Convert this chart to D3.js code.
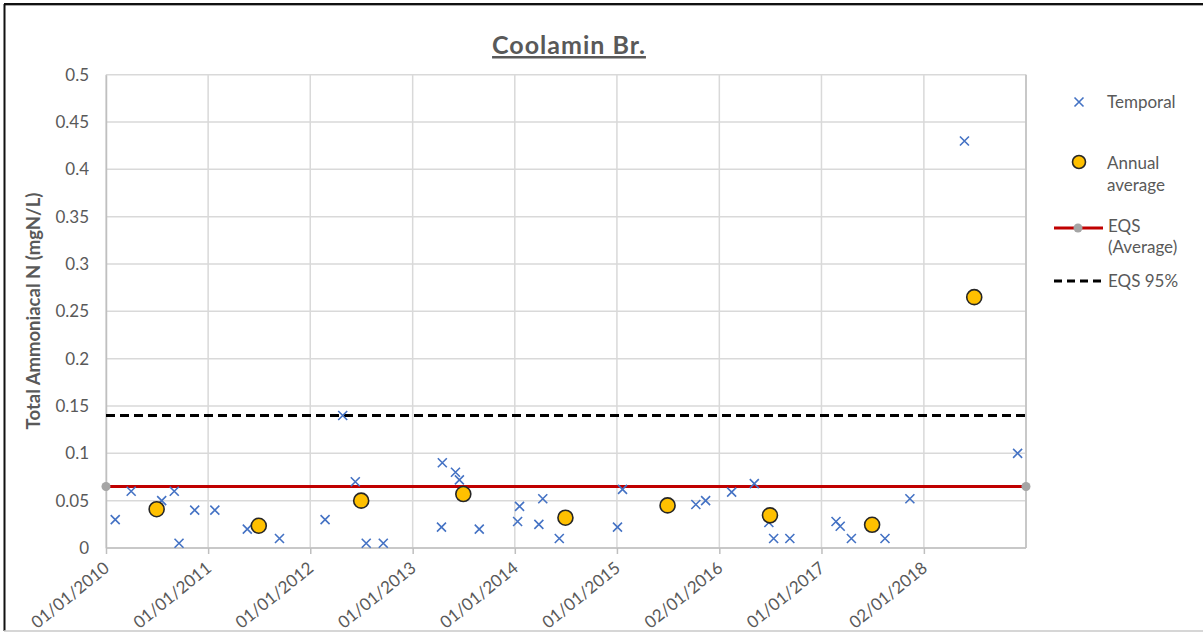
<!DOCTYPE html>
<html>
<head>
<meta charset="utf-8">
<script src="https://cdn.jsdelivr.net/npm/d3@7"></script>
<style>
  html, body { margin: 0; padding: 0; background: #fff; }
  svg { display: block; font-family: Lato, "Open Sans", "Liberation Sans", sans-serif; }
</style>
</head>
<body>
<svg id="chart" width="1203" height="633"></svg>
<script>
// ---- data ----
const titleText = "Coolamin Br.";
const yAxisTitle = "Total Ammoniacal N (mgN/L)";

const temporalDates = [
  "2010-02-03","2010-04-01","2010-07-19","2010-09-02","2010-09-19","2010-11-14",
  "2011-01-25","2011-05-21","2011-09-13",
  "2012-02-23","2012-04-26","2012-06-10","2012-07-19","2012-09-18",
  "2013-04-14","2013-04-17","2013-06-03","2013-06-17","2013-08-27",
  "2014-01-11","2014-01-18","2014-03-28","2014-04-11","2014-06-09",
  "2015-01-03","2015-01-21","2015-10-10","2015-11-14",
  "2016-02-15","2016-05-06","2016-06-27","2016-07-14","2016-09-10",
  "2017-02-22","2017-03-09","2017-04-18","2017-08-16","2017-11-13",
  "2018-05-27","2018-12-03"
];
const temporalValues = [
  0.03,0.06,0.05,0.06,0.005,0.04,
  0.04,0.02,0.01,
  0.03,0.14,0.07,0.005,0.005,
  0.022,0.09,0.08,0.072,0.02,
  0.028,0.044,0.025,0.052,0.01,
  0.022,0.062,0.046,0.05,
  0.059,0.068,0.027,0.01,0.01,
  0.028,0.023,0.01,0.01,0.052,
  0.43,0.1
];

const annualDates = ["2010-07-01","2011-07-01","2012-07-01","2013-07-01","2014-07-01",
                     "2015-07-01","2016-07-01","2017-07-01","2018-07-01"];
const annualValues = [0.041,0.0235,0.05,0.057,0.032,0.045,0.0345,0.0245,0.265];

const eqsAverage = 0.065;
const eqs95 = 0.14;

const xTickDates = ["2010-01-01","2011-01-01","2012-01-01","2013-01-01","2014-01-01",
                    "2015-01-01","2016-01-02","2017-01-01","2018-01-02"];
const xTickLabels = ["01/01/2010","01/01/2011","01/01/2012","01/01/2013","01/01/2014",
                     "01/01/2015","02/01/2016","01/01/2017","02/01/2018"];
const xDomain = ["2010-01-01","2019-01-02"];
const yTicks = [0,0.05,0.1,0.15,0.2,0.25,0.3,0.35,0.4,0.45,0.5];

const legendLabels = [["Temporal"],["Annual","average"],["EQS","(Average)"],["EQS 95%"]];

// ---- drawing ----
const parse = d3.utcParse("%Y-%m-%d");
const svg = d3.select("#chart");
const W = 1203, H = 633;
const plot = {left: 106, right: 1026, top: 74.7, bottom: 548};
const textCol = "#595959";
const gridCol = "#D9D9D9";
const fam = "Lato, 'Open Sans', sans-serif";

// outer frame
svg.append("rect").attr("x",0).attr("y",0).attr("width",W).attr("height",H).attr("fill","#fff");
svg.append("line").attr("x1",4).attr("x2",W).attr("y1",4).attr("y2",4).attr("stroke","#111").attr("stroke-width",2);
svg.append("line").attr("x1",4).attr("x2",W).attr("y1",5.5).attr("y2",5.5).attr("stroke","#aaa").attr("stroke-width",1);
svg.append("line").attr("x1",4.5).attr("x2",4.5).attr("y1",4).attr("y2",631).attr("stroke","#111").attr("stroke-width",2);
svg.append("line").attr("x1",4).attr("x2",W).attr("y1",631).attr("y2",631).attr("stroke","#c8c8c8").attr("stroke-width",1.5);

const x = d3.scaleUtc().domain(xDomain.map(parse)).range([plot.left, plot.right]);
const y = d3.scaleLinear().domain([0, 0.5]).range([plot.bottom, plot.top]);

// horizontal gridlines
svg.append("g").selectAll("line").data(yTicks).join("line")
  .attr("x1", plot.left).attr("x2", plot.right)
  .attr("y1", d => y(d)).attr("y2", d => y(d))
  .attr("stroke", gridCol).attr("stroke-width", 1.5);

// vertical gridlines
const xTicks = xTickDates.map(parse);
svg.append("g").selectAll("line").data(xTicks.concat([parse(xDomain[1])])).join("line")
  .attr("x1", d => x(d)).attr("x2", d => x(d))
  .attr("y1", plot.top).attr("y2", plot.bottom)
  .attr("stroke", gridCol).attr("stroke-width", 1.5);

// right border of plot
svg.append("line").attr("x1", plot.right).attr("x2", plot.right)
  .attr("y1", plot.top).attr("y2", plot.bottom).attr("stroke", "#BFBFBF").attr("stroke-width", 1.5);

// y axis
const yAxis = d3.axisLeft(y).tickValues(yTicks).tickSize(0).tickPadding(17)
  .tickFormat(d => d3.format("~g")(d));
const gy = svg.append("g").attr("transform", `translate(${plot.left},0)`).call(yAxis);
gy.select(".domain").attr("stroke", "#BFBFBF").attr("stroke-width", 1.5);
gy.selectAll("text").attr("fill", textCol).style("font-size", "17px").style("font-family", fam);

// x axis
const xAxis = d3.axisBottom(x).tickValues(xTicks).tickSize(6)
  .tickFormat((d, i) => xTickLabels[i]);
const gx = svg.append("g").attr("transform", `translate(0,${plot.bottom})`).call(xAxis);
gx.select(".domain").attr("stroke", "#BFBFBF").attr("stroke-width", 1.5).attr("d", `M${plot.left},0H${plot.right}`);
gx.selectAll(".tick line").attr("stroke", "#BFBFBF").attr("stroke-width", 1.5);
gx.selectAll("text")
  .attr("fill", textCol).style("font-size", "17px").style("font-family", fam)
  .attr("text-anchor", "end")
  .attr("dy", null)
  .attr("y", 0)
  .attr("transform", "translate(4,22) rotate(-39)");

// EQS 95% dashed
svg.append("line")
  .attr("x1", plot.left).attr("x2", plot.right)
  .attr("y1", y(eqs95)).attr("y2", y(eqs95))
  .attr("stroke", "#000").attr("stroke-width", 3).attr("stroke-dasharray", "9,5");

// EQS average line with grey endpoints
svg.append("line")
  .attr("x1", plot.left).attr("x2", plot.right)
  .attr("y1", y(eqsAverage)).attr("y2", y(eqsAverage))
  .attr("stroke", "#C00000").attr("stroke-width", 3);
svg.append("g").selectAll("circle").data([parse(xDomain[0]), parse(xDomain[1])]).join("circle")
  .attr("cx", d => x(d)).attr("cy", y(eqsAverage)).attr("r", 4.5).attr("fill", "#A5A5A5");

// temporal crosses
const cs = 4.5;
const crossPath = `M${-cs},${-cs}L${cs},${cs}M${-cs},${cs}L${cs},${-cs}`;
svg.append("g").selectAll("path").data(temporalDates.map((d, i) => ({d: parse(d), v: temporalValues[i]})))
  .join("path")
  .attr("transform", p => `translate(${x(p.d)},${y(p.v)})`)
  .attr("d", crossPath).attr("stroke", "#4472C4").attr("stroke-width", 1.6).attr("fill", "none");

// annual averages
svg.append("g").selectAll("circle").data(annualDates.map((d, i) => ({d: parse(d), v: annualValues[i]})))
  .join("circle")
  .attr("cx", p => x(p.d)).attr("cy", p => y(p.v)).attr("r", 7.5)
  .attr("fill", "#FFC000").attr("stroke", "#262626").attr("stroke-width", 1.6);

// title
svg.append("text").attr("x", 569).attr("y", 54).attr("text-anchor", "middle")
  .attr("fill", textCol).style("font-size", "25px").style("font-weight", "bold")
  .style("letter-spacing", "1px")
  .style("text-decoration", "underline")
  .text(titleText);

// y axis title
svg.append("text").attr("transform", "translate(40,311) rotate(-90)").attr("text-anchor", "middle")
  .attr("fill", textCol).style("font-size", "18.5px").style("font-weight", "bold")
  .text(yAxisTitle);

// legend
const lg = svg.append("g");
// Temporal
lg.append("path").attr("transform", "translate(1079,102)").attr("d", crossPath)
  .attr("stroke", "#4472C4").attr("stroke-width", 1.6).attr("fill", "none");
// Annual average
lg.append("circle").attr("cx", 1079).attr("cy", 162).attr("r", 6.5)
  .attr("fill", "#FFC000").attr("stroke", "#262626").attr("stroke-width", 1.6);
// EQS average
lg.append("line").attr("x1", 1054).attr("x2", 1103).attr("y1", 228).attr("y2", 228)
  .attr("stroke", "#C00000").attr("stroke-width", 3);
lg.append("circle").attr("cx", 1078).attr("cy", 228).attr("r", 4.5).attr("fill", "#A5A5A5");
// EQS 95
lg.append("line").attr("x1", 1054).attr("x2", 1103).attr("y1", 281).attr("y2", 281)
  .attr("stroke", "#000").attr("stroke-width", 3).attr("stroke-dasharray", "8,5");

const legY = [[108],[169,191],[232,253],[287]];
const legXs = [1107, 1107, 1108, 1108];
legendLabels.forEach((lines, i) => {
  lines.forEach((t, j) => {
    lg.append("text").attr("x", legXs[i]).attr("y", legY[i][j])
      .attr("fill", textCol).style("font-size", "17px").text(t);
  });
});
</script>
</body>
</html>
